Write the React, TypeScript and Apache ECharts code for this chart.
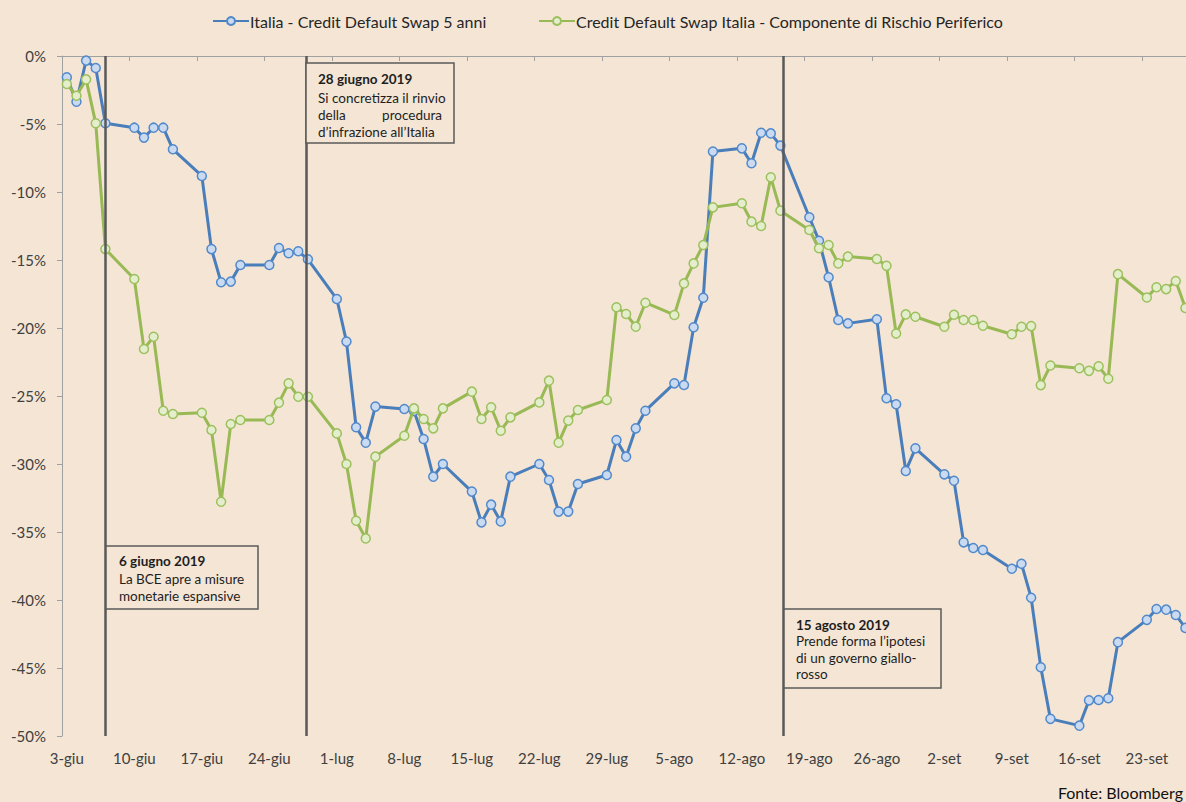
import React, { useEffect, useRef } from "react";
import * as echarts from "echarts";

const seriesNames = [
  "Italia - Credit Default Swap 5 anni",
  "Credit Default Swap Italia - Componente di Rischio Periferico",
];

const weekLabels = [
  "3-giu", "10-giu", "17-giu", "24-giu", "1-lug", "8-lug", "15-lug", "22-lug", "29-lug",
  "5-ago", "12-ago", "19-ago", "26-ago", "2-set", "9-set", "16-set", "23-set",
];

const dates = [
  "2019-06-03", "2019-06-04", "2019-06-05", "2019-06-06", "2019-06-07",
  "2019-06-10", "2019-06-11", "2019-06-12", "2019-06-13", "2019-06-14",
  "2019-06-17", "2019-06-18", "2019-06-19", "2019-06-20", "2019-06-21",
  "2019-06-24", "2019-06-25", "2019-06-26", "2019-06-27", "2019-06-28",
  "2019-07-01", "2019-07-02", "2019-07-03", "2019-07-04", "2019-07-05",
  "2019-07-08", "2019-07-09", "2019-07-10", "2019-07-11", "2019-07-12",
  "2019-07-15", "2019-07-16", "2019-07-17", "2019-07-18", "2019-07-19",
  "2019-07-22", "2019-07-23", "2019-07-24", "2019-07-25", "2019-07-26",
  "2019-07-29", "2019-07-30", "2019-07-31", "2019-08-01", "2019-08-02",
  "2019-08-05", "2019-08-06", "2019-08-07", "2019-08-08", "2019-08-09",
  "2019-08-12", "2019-08-13", "2019-08-14", "2019-08-15", "2019-08-16",
  "2019-08-19", "2019-08-20", "2019-08-21", "2019-08-22", "2019-08-23",
  "2019-08-26", "2019-08-27", "2019-08-28", "2019-08-29", "2019-08-30",
  "2019-09-02", "2019-09-03", "2019-09-04", "2019-09-05", "2019-09-06",
  "2019-09-09", "2019-09-10", "2019-09-11", "2019-09-12", "2019-09-13",
  "2019-09-16", "2019-09-17", "2019-09-18", "2019-09-19", "2019-09-20",
  "2019-09-23", "2019-09-24", "2019-09-25", "2019-09-26", "2019-09-27",
];

const cdsItalia = [
  -1.57, -3.36, -0.34, -0.88, -4.95,
  -5.27, -6.0, -5.27, -5.27, -6.86,
  -8.82, -14.2, -16.64, -16.59, -15.37,
  -15.37, -14.12, -14.5, -14.36, -14.95,
  -17.87, -21.0, -27.3, -28.43, -25.78,
  -25.96, -26.1, -28.16, -30.93, -30.0,
  -32.03, -34.29, -32.99, -34.22, -30.93,
  -30.0, -31.18, -33.5, -33.5, -31.47,
  -30.81, -28.24, -29.46, -27.38, -26.08,
  -24.07, -24.19, -19.95, -17.77, -7.03,
  -6.79, -7.89, -5.64, -5.69, -6.59,
  -11.86, -13.58, -16.27, -19.41, -19.66,
  -19.36, -25.17, -25.61, -30.51, -28.85,
  -30.76, -31.23, -35.76, -36.18, -36.32,
  -37.7, -37.34, -39.83, -44.95, -48.74,
  -49.24, -47.38, -47.35, -47.22, -43.1,
  -41.46, -40.66, -40.71, -41.1, -42.05,
];

const rischioPeriferico = [
  -2.06, -2.92, -1.72, -4.95, -14.2,
  -16.4, -21.54, -20.64, -26.08, -26.32,
  -26.23, -27.5, -32.77, -27.06, -26.76,
  -26.76, -25.49, -24.07, -25.05, -25.05,
  -27.75, -30.0, -34.17, -35.47, -29.46,
  -27.92, -25.91, -26.69, -27.38, -25.91,
  -24.68, -26.69, -25.83, -27.55, -26.57,
  -25.47, -23.87, -28.43, -26.81, -26.03,
  -25.29, -18.48, -18.97, -19.9, -18.14,
  -19.04, -16.72, -15.25, -13.9, -11.13,
  -10.83, -12.18, -12.5, -8.92, -11.37,
  -12.79, -14.14, -13.9, -15.25, -14.75,
  -14.93, -15.43, -20.41, -19.0, -19.17,
  -19.91, -19.03, -19.41, -19.41, -19.83,
  -20.46, -19.91, -19.86, -24.2, -22.76,
  -22.96, -23.15, -22.82, -23.73, -16.04,
  -17.76, -17.0, -17.14, -16.54, -18.53,
];

// event lines, in days from 3 June (slot units of the date axis)
const eventLinePositions = [4.51, 25.36, 74.82];

const FONT = 'Lato, "Noto Sans", "Open Sans", sans-serif';
const BG = "#F4E5D5";
const BLUE = "#4A7EBB";
const GREEN = "#98B954";

const DAY0 = Date.UTC(2019, 5, 3);
const xOf = (s: string) =>
  (Date.UTC(+s.slice(0, 4), +s.slice(5, 7) - 1, +s.slice(8, 10)) - DAY0) / 86400000 + 0.5;

const X_MAX = 116.56;

function boxTexts(x: number, lines: { t: string; y: number; bold?: boolean; align?: string }[]) {
  return lines.map((l) => ({
    type: "text",
    x: x,
    y: l.y,
    style: {
      text: l.t,
      fontFamily: FONT,
      fontSize: 13.5,
      fontWeight: l.bold ? "bold" : "normal",
      fill: "#1e1e1e",
      align: l.align || "left",
      verticalAlign: "middle",
    },
    z: 10,
  }));
}

function annotationBox(x: number, y: number, w: number, h: number) {
  return {
    type: "rect",
    shape: { x, y, width: w, height: h },
    style: { fill: BG, stroke: "#5A5A5A", lineWidth: 1.5 },
    z: 9,
  };
}

const legendBase = {
  top: 8,
  itemWidth: 36,
  itemHeight: 10,
  textStyle: { fontFamily: FONT, fontSize: 16, color: "#262626", padding: [0, 0, 0, -4] },
};

export default function App() {
  const ref = useRef<HTMLDivElement>(null);

  useEffect(() => {
    if (!ref.current) return;
    const chart = echarts.init(ref.current, undefined, { renderer: "svg" });

    const blueData = dates.map((d, i) => [xOf(d), cdsItalia[i]]);
    const greenData = dates.map((d, i) => [xOf(d), rischioPeriferico[i]]);

    const option: any = {
      animation: false,
      backgroundColor: BG,
      textStyle: { fontFamily: FONT },
      grid: { left: 62, top: 56, right: 0, bottom: 66, containLabel: false },
      legend: [
        { ...legendBase, left: 207, data: [seriesNames[0]] },
        { ...legendBase, left: 533, data: [seriesNames[1]] },
      ],
      xAxis: [
        {
          type: "value",
          position: "bottom",
          min: 0,
          max: X_MAX,
          interval: 7,
          axisLine: { show: false, onZero: false },
          axisTick: { show: false },
          splitLine: { show: false },
          axisLabel: {
            fontFamily: FONT,
            fontSize: 15,
            color: "#404040",
            margin: 14,
            padding: [0, 0, 0, 9.64],
            showMaxLabel: false,
            formatter: (v: number) => {
              const k = Math.round(v / 7);
              if (Math.abs(v - k * 7) > 1e-6) return "";
              return weekLabels[k] || "";
            },
          },
        },
        {
          type: "value",
          position: "top",
          min: 0,
          max: X_MAX,
          interval: 7,
          axisLine: { show: true, onZero: false, lineStyle: { color: "#A0A0A0", width: 1 } },
          axisTick: { show: true, inside: true, length: 5, lineStyle: { color: "#A0A0A0" } },
          axisLabel: { show: false },
          splitLine: { show: false },
        },
      ],
      yAxis: {
        type: "value",
        min: -50,
        max: 0,
        interval: 5,
        axisLine: { show: true, onZero: false, lineStyle: { color: "#A0A0A0", width: 1 } },
        axisTick: { show: true, length: 5, lineStyle: { color: "#A0A0A0" } },
        splitLine: { show: false },
        axisLabel: {
          formatter: "{value}%",
          fontFamily: FONT,
          fontSize: 15,
          color: "#404040",
          margin: 16,
        },
      },
      series: [
        {
          name: "eventi",
          type: "line",
          data: [],
          z: 1,
          silent: true,
          markLine: {
            silent: true,
            symbol: ["none", "none"],
            label: { show: false },
            lineStyle: { color: "#595959", width: 2.5, type: "solid" },
            data: eventLinePositions.map((v) => ({ xAxis: v })),
          },
        },
        {
          name: seriesNames[0],
          type: "line",
          data: blueData,
          z: 3,
          symbol: "circle",
          symbolSize: 9,
          showSymbol: true,
          showAllSymbol: true,
          lineStyle: { color: BLUE, width: 3 },
          itemStyle: { color: "#CADBF1", borderColor: "#5289CB", borderWidth: 1.5 },
        },
        {
          name: seriesNames[1],
          type: "line",
          data: greenData,
          z: 4,
          symbol: "circle",
          symbolSize: 9,
          showSymbol: true,
          showAllSymbol: true,
          lineStyle: { color: GREEN, width: 3 },
          itemStyle: { color: "#E4EECC", borderColor: "#9DC05E", borderWidth: 1.5 },
        },
      ],
      graphic: [
        annotationBox(106, 546, 152, 63),
        ...boxTexts(119, [
          { t: "6 giugno 2019", y: 561, bold: true },
          { t: "La BCE apre a misure", y: 578.5 },
          { t: "monetarie espansive", y: 595.5 },
        ]),
        annotationBox(306, 63, 148, 80),
        ...boxTexts(318, [
          { t: "28 giugno 2019", y: 79, bold: true },
          { t: "Si concretizza il rinvio", y: 98 },
          { t: "della", y: 115 },
          { t: "d\u2019infrazione all\u2019Italia", y: 131.5 },
        ]),
        ...boxTexts(442, [{ t: "procedura", y: 115, align: "right" }]),
        annotationBox(784, 609, 157, 79),
        ...boxTexts(796, [
          { t: "15 agosto 2019", y: 624.5, bold: true },
          { t: "Prende forma l\u2019ipotesi", y: 641 },
          { t: "di un governo giallo-", y: 657.5 },
          { t: "rosso", y: 674 },
        ]),
        {
          type: "text",
          x: 1183,
          y: 792,
          style: {
            text: "Fonte: Bloomberg",
            fontFamily: FONT,
            fontSize: 16,
            fill: "#111111",
            align: "right",
            verticalAlign: "middle",
          },
          z: 10,
        },
      ],
    };

    chart.setOption(option);
    return () => chart.dispose();
  }, []);

  return (
    <div
      ref={ref}
      style={{ position: "fixed", left: 0, top: 0, width: 1186, height: 802 }}
    />
  );
}
